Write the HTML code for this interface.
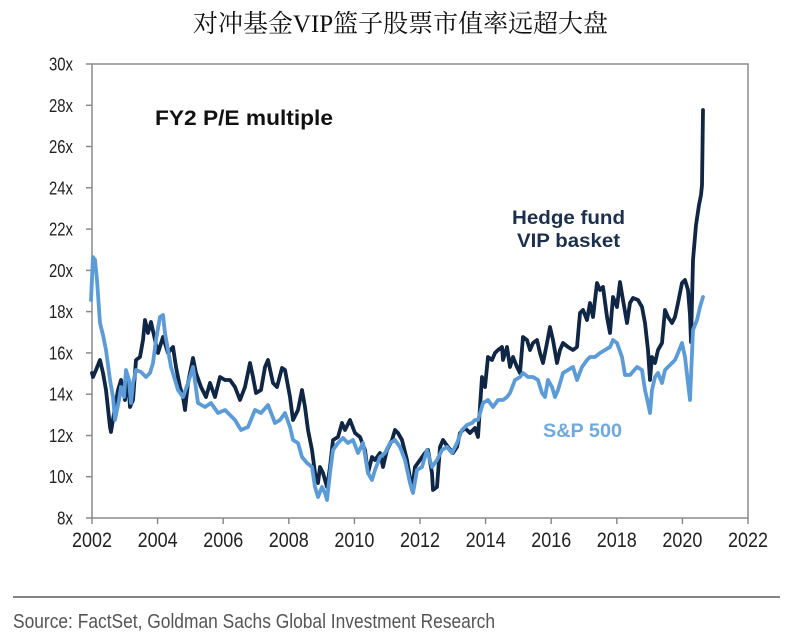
<!DOCTYPE html>
<html>
<head>
<meta charset="utf-8">
<style>
  html, body { margin: 0; padding: 0; background: #ffffff; }
  body { width: 795px; height: 644px; overflow: hidden; }
  svg { display: block; }
  .ax { font-family: "Liberation Sans", Arial, sans-serif; fill: #222; }
</style>
</head>
<body>
<svg width="795" height="644" viewBox="0 0 795 644" xmlns="http://www.w3.org/2000/svg">
  <rect x="0" y="0" width="795" height="644" fill="#ffffff"/>

  <!-- Title -->
  <text x="193" y="32" font-family="'Liberation Serif', 'Noto Serif CJK SC', serif" font-size="25" fill="#111" textLength="415" lengthAdjust="spacingAndGlyphs">对冲基金VIP篮子股票市值率远超大盘</text>

  <!-- Plot box -->
  <rect x="92" y="64" width="656" height="454" fill="none" stroke="#8a8a8a" stroke-width="1.5"/>

  <!-- Y ticks -->
  <g stroke="#8a8a8a" stroke-width="1.5">
    <line x1="86" y1="64" x2="92" y2="64"/>
    <line x1="86" y1="105.3" x2="92" y2="105.3"/>
    <line x1="86" y1="146.5" x2="92" y2="146.5"/>
    <line x1="86" y1="187.8" x2="92" y2="187.8"/>
    <line x1="86" y1="229.1" x2="92" y2="229.1"/>
    <line x1="86" y1="270.4" x2="92" y2="270.4"/>
    <line x1="86" y1="311.6" x2="92" y2="311.6"/>
    <line x1="86" y1="352.9" x2="92" y2="352.9"/>
    <line x1="86" y1="394.2" x2="92" y2="394.2"/>
    <line x1="86" y1="435.5" x2="92" y2="435.5"/>
    <line x1="86" y1="476.7" x2="92" y2="476.7"/>
    <line x1="86" y1="518" x2="92" y2="518"/>
  </g>
  <!-- X ticks -->
  <g stroke="#8a8a8a" stroke-width="1.5">
    <line x1="92" y1="518" x2="92" y2="524"/>
    <line x1="157.6" y1="518" x2="157.6" y2="524"/>
    <line x1="223.2" y1="518" x2="223.2" y2="524"/>
    <line x1="288.8" y1="518" x2="288.8" y2="524"/>
    <line x1="354.4" y1="518" x2="354.4" y2="524"/>
    <line x1="420" y1="518" x2="420" y2="524"/>
    <line x1="485.6" y1="518" x2="485.6" y2="524"/>
    <line x1="551.2" y1="518" x2="551.2" y2="524"/>
    <line x1="616.8" y1="518" x2="616.8" y2="524"/>
    <line x1="682.4" y1="518" x2="682.4" y2="524"/>
    <line x1="748" y1="518" x2="748" y2="524"/>
  </g>

  <!-- Y labels -->
  <g class="ax" font-size="18">
    <text x="49" y="70.5" textLength="24" lengthAdjust="spacingAndGlyphs">30x</text>
    <text x="49" y="111.8" textLength="24" lengthAdjust="spacingAndGlyphs">28x</text>
    <text x="49" y="153" textLength="24" lengthAdjust="spacingAndGlyphs">26x</text>
    <text x="49" y="194.3" textLength="24" lengthAdjust="spacingAndGlyphs">24x</text>
    <text x="49" y="235.6" textLength="24" lengthAdjust="spacingAndGlyphs">22x</text>
    <text x="49" y="276.9" textLength="24" lengthAdjust="spacingAndGlyphs">20x</text>
    <text x="49" y="318.1" textLength="24" lengthAdjust="spacingAndGlyphs">18x</text>
    <text x="49" y="359.4" textLength="24" lengthAdjust="spacingAndGlyphs">16x</text>
    <text x="49" y="400.7" textLength="24" lengthAdjust="spacingAndGlyphs">14x</text>
    <text x="49" y="442" textLength="24" lengthAdjust="spacingAndGlyphs">12x</text>
    <text x="49" y="483.2" textLength="24" lengthAdjust="spacingAndGlyphs">10x</text>
    <text x="57" y="524.5" textLength="16" lengthAdjust="spacingAndGlyphs">8x</text>
  </g>

  <!-- X labels -->
  <g class="ax" font-size="21">
    <text x="72" y="547" textLength="40" lengthAdjust="spacingAndGlyphs">2002</text>
    <text x="137.6" y="547" textLength="40" lengthAdjust="spacingAndGlyphs">2004</text>
    <text x="203.2" y="547" textLength="40" lengthAdjust="spacingAndGlyphs">2006</text>
    <text x="268.8" y="547" textLength="40" lengthAdjust="spacingAndGlyphs">2008</text>
    <text x="334.4" y="547" textLength="40" lengthAdjust="spacingAndGlyphs">2010</text>
    <text x="400" y="547" textLength="40" lengthAdjust="spacingAndGlyphs">2012</text>
    <text x="465.6" y="547" textLength="40" lengthAdjust="spacingAndGlyphs">2014</text>
    <text x="531.2" y="547" textLength="40" lengthAdjust="spacingAndGlyphs">2016</text>
    <text x="596.8" y="547" textLength="40" lengthAdjust="spacingAndGlyphs">2018</text>
    <text x="662.4" y="547" textLength="40" lengthAdjust="spacingAndGlyphs">2020</text>
    <text x="728" y="547" textLength="40" lengthAdjust="spacingAndGlyphs">2022</text>
  </g>

  <!-- Chart annotations -->
  <text x="155" y="125" font-family="'Liberation Sans', Arial, sans-serif" font-weight="bold" font-size="21" fill="#111" textLength="178" lengthAdjust="spacingAndGlyphs">FY2 P/E multiple</text>
  <text x="512" y="224" font-family="'Liberation Sans', Arial, sans-serif" font-weight="bold" font-size="19.5" fill="#1c2f4d" textLength="113" lengthAdjust="spacingAndGlyphs">Hedge fund</text>
  <text x="517" y="247" font-family="'Liberation Sans', Arial, sans-serif" font-weight="bold" font-size="19.5" fill="#1c2f4d" textLength="103" lengthAdjust="spacingAndGlyphs">VIP basket</text>
  <text x="543" y="437" font-family="'Liberation Sans', Arial, sans-serif" font-weight="bold" font-size="19.5" fill="#6fa9de" textLength="79" lengthAdjust="spacingAndGlyphs">S&amp;P 500</text>

  <!-- Hedge fund VIP basket (dark) -->
  <polyline fill="none" stroke="#0f2645" stroke-width="3.8" stroke-linejoin="round" stroke-linecap="round"
    points="92,373 93,377 96,370 100,360 103,373 106,390 110,427 111,432 115,407 118,390 121,380 125,400 128,377 130,407 133,400 136,360 140,357 143,340 145,320 148,333 151,322 155,340 158,353 163,337 168,353 173,347 176,367 180,387 183,397 185,410 188,383 193,358 196,373 201,387 206,397 210,383 215,397 220,377 225,380 230,380 235,387 240,400 245,387 250,363 253,377 256,393 261,390 265,367 268,360 273,383 277,387 282,368 285,370 290,397 293,420 298,410 302,390 305,407 308,430 312,450 315,473 318,483 320,467 323,473 327,487 330,467 333,440 338,437 342,423 345,430 350,420 355,433 360,437 365,450 368,473 372,457 375,460 380,453 383,467 387,450 392,440 395,430 398,433 402,440 407,460 412,490 415,467 420,460 425,453 428,450 432,473 433,490 437,487 440,447 443,440 448,447 453,453 457,447 460,433 465,428 470,433 475,428 478,437 482,377 485,387 488,357 492,360 495,353 498,350 502,347 503,360 507,347 510,367 513,357 517,367 520,373 523,337 527,340 530,350 533,343 537,340 540,353 543,363 547,343 550,327 553,340 557,363 560,350 563,343 568,347 573,350 577,347 580,313 583,310 587,320 590,303 593,317 597,283 600,290 603,287 607,317 610,333 613,297 617,307 620,282 623,300 627,323 630,303 633,298 638,300 642,307 645,323 648,350 650,380 652,357 655,363 658,350 662,343 665,310 668,317 672,323 675,317 678,303 682,283 685,280 688,290 690,315 691,342 693,260 696,225 699,205 701,195 702,185 703,110"/>

  <!-- S&P 500 (light) -->
  <polyline fill="none" stroke="#5b9bd8" stroke-width="3.8" stroke-linejoin="round" stroke-linecap="round"
    points="91,300 93,257 95,260 97,280 100,323 103,335 106,350 110,380 113,397 115,420 119,400 121,387 124,397 126,370 129,380 131,403 133,383 136,370 141,372 146,377 150,373 153,363 156,340 160,317 163,315 165,333 168,350 171,367 175,380 178,390 183,397 188,383 193,367 198,403 205,407 211,403 218,413 225,410 235,420 241,430 248,427 255,410 261,413 268,405 275,423 280,420 285,413 290,427 293,440 298,443 302,457 307,463 312,467 315,487 318,497 322,487 325,493 327,500 330,473 333,450 338,443 343,438 348,443 353,440 358,453 363,443 368,473 372,480 375,470 380,457 385,453 390,443 395,440 400,447 405,460 410,483 413,493 417,470 422,467 427,450 432,467 437,460 442,450 447,447 452,453 457,443 462,430 467,425 472,423 475,420 478,420 483,403 488,400 493,407 498,400 503,400 507,397 510,393 515,380 520,377 523,373 528,377 533,377 538,380 542,393 545,397 548,380 552,387 555,397 558,390 563,373 568,370 573,367 577,380 582,367 587,360 590,357 595,357 600,353 605,350 610,347 613,340 617,343 622,357 625,375 630,375 637,367 642,370 645,390 648,403 650,413 652,390 655,377 658,373 662,383 665,370 668,367 672,363 675,360 678,353 682,343 685,357 688,383 690,400 693,330 697,320 700,307 703,297"/>

  <!-- Source rule and text -->
  <line x1="13" y1="597" x2="780" y2="597" stroke="#858585" stroke-width="2"/>
  <text x="13" y="628" font-family="'Liberation Sans', Arial, sans-serif" font-size="20" fill="#555" textLength="482" lengthAdjust="spacingAndGlyphs">Source: FactSet, Goldman Sachs Global Investment Research</text>
</svg>
</body>
</html>
